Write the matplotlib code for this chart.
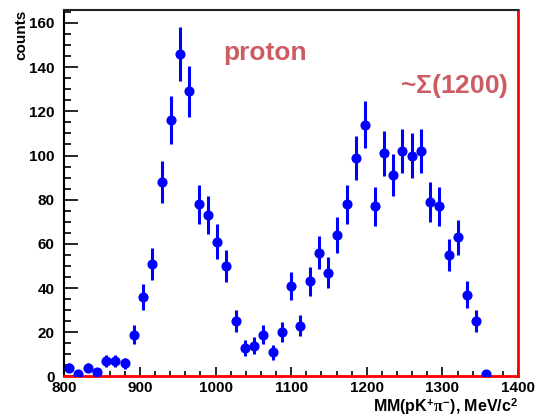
import numpy as np
import matplotlib
matplotlib.use("Agg")
import matplotlib.pyplot as plt
from matplotlib.ticker import MultipleLocator

plt.rcParams['font.family'] = ['Liberation Sans', 'DejaVu Sans']
plt.rcParams['font.weight'] = 'bold'
plt.rcParams['mathtext.fontset'] = 'custom'
plt.rcParams['mathtext.rm'] = 'Liberation Sans:bold'
plt.rcParams['mathtext.bf'] = 'Liberation Sans:bold'
plt.rcParams['mathtext.it'] = 'Liberation Serif'

# histogram: 49 bins between 800 and 1400 MeV/c2, filled bins only
nbins = 49
xlo, xhi = 800, 1400
counts = [4, 1, 4, 2, 7, 7, 6, 19, 36, 51,
          88, 116, 146, 129, 78, 73, 61, 50, 25, 13,
          14, 19, 11, 20, 41, 23, 43, 56, 47, 64,
          78, 99, 114, 77, 101, 91, 102, 100, 102, 79,
          77, 55, 63, 37, 25, 1]

edges = np.linspace(xlo, xhi, nbins + 1)
centers = 0.5 * (edges[:-1] + edges[1:])
x = centers[:len(counts)]
y = np.array(counts, dtype=float)
err = np.sqrt(y)   # poisson errors

fig = plt.figure(figsize=(5.41, 4.20), dpi=100)
ax = fig.add_axes([0.119, 0.1036, 0.8385, 0.8734])

ax.errorbar(x, y, yerr=err, fmt='o', color='#0000ff', ms=6.3, lw=2.2,
            capsize=0, zorder=3)

ax.set_xlim(xlo, xhi)
ax.set_ylim(0, 166)

ax.xaxis.set_major_locator(MultipleLocator(100))
ax.xaxis.set_minor_locator(MultipleLocator(20))
ax.yaxis.set_major_locator(MultipleLocator(20))
ax.yaxis.set_minor_locator(MultipleLocator(5))

ax.tick_params(axis='both', which='both', direction='in', labelsize=11,
               top=False, right=False, color='black', width=1.2)
ax.tick_params(axis='y', which='major', length=10, pad=7)
ax.tick_params(axis='y', which='minor', length=5)
ax.tick_params(axis='x', which='major', length=6.5, pad=3.5)
ax.tick_params(axis='x', which='minor', length=3.5)
for lab in ax.get_xticklabels() + ax.get_yticklabels():
    lab.set_fontweight('bold')

ax.spines['left'].set_color('black')
ax.spines['left'].set_linewidth(1.5)
ax.spines['top'].set_color('#222222')
ax.spines['top'].set_linewidth(1.5)
ax.spines['right'].set_color('red')
ax.spines['right'].set_linewidth(2)
ax.spines['bottom'].set_color('red')
ax.spines['bottom'].set_linewidth(2)

fig.text(0.039, 0.977, 'counts', rotation=90, ha='center', va='top',
         fontsize=11, fontweight='bold')
fig.text(0.957, 0.032, r'MM(pK$^{+}\mathit{\pi}^{-}$), MeV/c$^{2}$',
         ha='right', va='center', fontsize=11.5, fontweight='bold')

red = '#cd5c62'
ax.text(1065, 146.5, 'proton', color=red, fontsize=19, fontweight='bold',
        ha='center', va='center')
ax.text(1387, 131.5, r'~$\mathit{\Sigma}$(1200)', color=red, fontsize=19,
        fontweight='bold', ha='right', va='center')

fig.savefig('out.png', dpi=100)
